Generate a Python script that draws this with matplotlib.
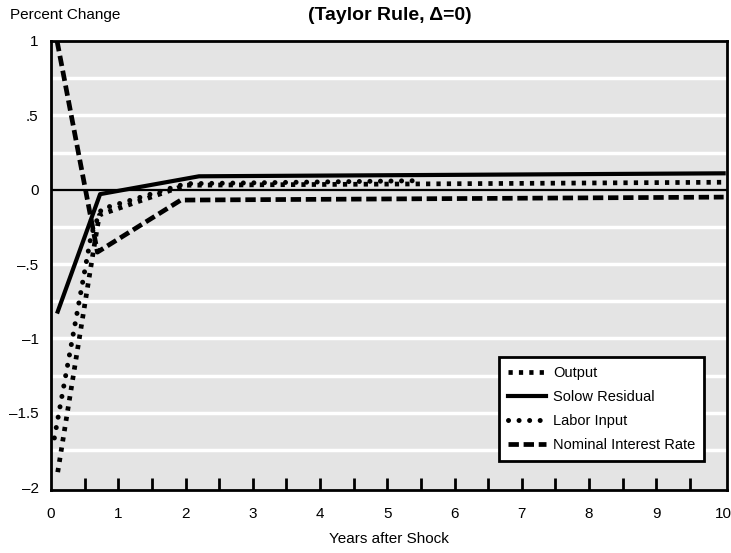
import matplotlib.pyplot as plt

# years after shock / percent change
output_x = [0.1, 0.66, 0.72, 2.0, 10.0]
output_y = [-1.9, -0.33, -0.17, 0.03, 0.05]

solow_x = [0.1, 0.73, 2.2, 10.0]
solow_y = [-0.82, -0.03, 0.09, 0.11]

labor_x = [0.05, 0.6, 0.75, 2.0, 5.4]
labor_y = [-1.67, -0.3, -0.13, 0.04, 0.06]

rate_x = [0.09, 0.69, 1.93, 10.0]
rate_y = [1.0, -0.42, -0.07, -0.05]

xtick_vals = [0.5 * i for i in range(0, 21)]
xtick_labels = [str(int(v)) if v == int(v) else "" for v in xtick_vals]
ytick_vals = [1, 0.5, 0, -0.5, -1, -1.5, -2]
ytick_labels = ["1", ".5", "0", "\u2013.5", "\u20131", "\u20131.5", "\u20132"]
grid_vals = [0.75, 0.5, 0.25, -0.25, -0.5, -0.75, -1, -1.25, -1.5, -1.75]

plt.rcParams['font.family'] = ['Liberation Sans', 'DejaVu Sans']

fig = plt.figure(figsize=(7.31, 5.53), dpi=100)
ax = fig.add_axes([51/731, 63/553, 676/731, 449/553])
ax.set_facecolor("#e4e4e4")

for g in grid_vals:
    ax.axhline(g, color="white", lw=2.5, zorder=1)
ax.axhline(0, color="black", lw=1.6, zorder=2)

ax.plot(output_x, output_y, color="black", lw=3.4, dashes=(0.9, 1.3),
        dash_capstyle="butt", label="Output", zorder=3)
ax.plot(solow_x, solow_y, color="black", lw=3.0, label="Solow Residual", zorder=3)
ax.plot(labor_x, labor_y, color="black", lw=3.6, dashes=(0.01, 2.1),
        dash_capstyle="round", label="Labor Input", zorder=3)
ax.plot(rate_x, rate_y, color="black", lw=3.4, dashes=(2.2, 1.0),
        dash_capstyle="butt", label="Nominal Interest Rate", zorder=3)

ax.set_xlim(0, 10.05)
ax.set_ylim(-2.02, 1.0)

ax.set_xticks(xtick_vals)
ax.set_xticklabels(xtick_labels)
ax.tick_params(axis="x", direction="in", length=9, width=2, pad=12, labelsize=11)
ax.xaxis.get_major_ticks()[0].tick1line.set_visible(False)
ax.xaxis.get_major_ticks()[-1].tick1line.set_visible(False)
ax.set_yticks(ytick_vals)
ax.set_yticklabels(ytick_labels)
ax.tick_params(axis="y", length=0, pad=9, labelsize=11)

for s in ax.spines.values():
    s.set_linewidth(2)

ax.set_xlabel("Years after Shock", fontsize=11, labelpad=8)
fig.text(10/731, 1 - 15/553, "Percent Change", fontsize=11, va="center", ha="left")
fig.text(390/731, 1 - 15/553, "(Taylor Rule, \u0394=0)", fontsize=14,
         fontweight="bold", va="center", ha="center")

leg = ax.legend(loc="upper right", bbox_to_anchor=(0.966, 0.296), fontsize=10.5,
                frameon=True, fancybox=False, handlelength=2.6, borderpad=0.6,
                labelspacing=0.7, handletextpad=0.5, borderaxespad=0)
leg.get_frame().set_edgecolor("black")
leg.get_frame().set_linewidth(2)
leg.get_frame().set_facecolor("white")
leg.get_frame().set_alpha(1)

fig.savefig("out.png", dpi=100)
